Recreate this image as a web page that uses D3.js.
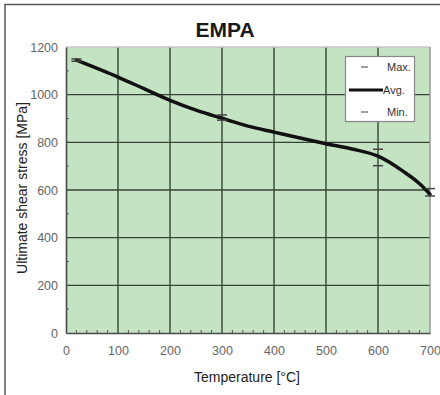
<!DOCTYPE html>
<html><head><meta charset="utf-8">
<script src="https://cdn.jsdelivr.net/npm/d3@7"></script>
<style>body{margin:0;background:#fff;}svg{display:block;}</style>
</head><body>
<script>
const title = "EMPA";
const xLabel = "Temperature [°C]";
const yLabel = "Ultimate shear stress [MPa]";
const xTicks = [0, 100, 200, 300, 400, 500, 600, 700];
const yTicks = [0, 200, 400, 600, 800, 1000, 1200];
const temps = [20, 100, 150, 200, 250, 300, 350, 400, 450, 500, 550, 600, 650, 680, 700];
const avg   = [1145, 1074, 1025, 976, 935, 901, 868, 843, 818, 794, 772, 742, 676, 626, 582];
const barTemps = [20, 300, 600, 700];
const maxVals  = [1150, 915, 771, 606];
const minVals  = [1140, 893, 702, 575];
const legendLabels = ["Max.", "Avg.", "Min."];

const W = 440, H = 395;
const svg = d3.select("body").append("svg").attr("width", W).attr("height", H)
  .style("font-family", "Arial, 'Liberation Sans', sans-serif");

// outer frame
svg.append("path").attr("d", `M5,${H} L5,4.5 L${W},4.5`).attr("fill", "none")
  .attr("stroke", "#555").attr("stroke-width", 1.5);

const x = d3.scaleLinear().domain([0, 700]).range([66, 430]);
const y = d3.scaleLinear().domain([0, 1200]).range([333, 47]);

svg.append("rect").attr("x", x(0)).attr("y", y(1200)).attr("width", x(700) - x(0))
  .attr("height", y(0) - y(1200)).attr("fill", "#c4e3c3");

// grid
svg.append("g").selectAll("line").data(xTicks.slice(1, -1)).join("line")
  .attr("x1", d => x(d)).attr("x2", d => x(d)).attr("y1", y(1200)).attr("y2", y(0))
  .attr("stroke", "#364236").attr("stroke-width", 1.4);
svg.append("g").selectAll("line").data(yTicks.slice(1, -1)).join("line")
  .attr("x1", x(0)).attr("x2", x(700)).attr("y1", d => y(d)).attr("y2", d => y(d))
  .attr("stroke", "#364236").attr("stroke-width", 1.4);

// borders
svg.append("line").attr("x1", x(0)).attr("x2", x(700)).attr("y1", y(1200)).attr("y2", y(1200))
  .attr("stroke", "#c8c8c8").attr("stroke-width", 1.5);
svg.append("line").attr("x1", x(700)).attr("x2", x(700)).attr("y1", y(1200)).attr("y2", y(0))
  .attr("stroke", "#9a9a9a").attr("stroke-width", 1.5);

// axes
const xAxis = d3.axisBottom(x).tickValues(xTicks).tickFormat(d3.format("d")).tickSize(0).tickPadding(13);
const gx = svg.append("g").attr("transform", `translate(0,${y(0)})`).call(xAxis);
gx.select(".domain").attr("stroke", "#4a4a4a").attr("stroke-width", 1.6);
gx.selectAll("text").attr("fill", "#666").style("font-size", "12.5px");

const yAxis = d3.axisLeft(y).tickValues(yTicks).tickFormat(d3.format("d")).tickSize(0).tickPadding(8);
const gy = svg.append("g").attr("transform", `translate(${x(0)},0)`).call(yAxis);
gy.select(".domain").attr("stroke", "#4a4a4a").attr("stroke-width", 1.6);
gy.selectAll("text").attr("fill", "#666").style("font-size", "12.5px");

// minor ticks
svg.append("g").selectAll("line").data(d3.range(20, 700, 20).filter(d => d % 100 !== 0)).join("line")
  .attr("x1", d => x(d)).attr("x2", d => x(d)).attr("y1", y(0)).attr("y2", y(0) - 3)
  .attr("stroke", "#555").attr("stroke-width", 1);
svg.append("g").selectAll("line").data([100, 300, 500, 700, 900, 1100]).join("line")
  .attr("x1", x(0)).attr("x2", x(0) + 3).attr("y1", d => y(d)).attr("y2", d => y(d))
  .attr("stroke", "#555").attr("stroke-width", 1);

// curve
const line = d3.line().x((d, i) => x(temps[i])).y(d => y(d)).curve(d3.curveMonotoneX);
svg.append("path").datum(avg).attr("d", line).attr("fill", "none")
  .attr("stroke", "#111").attr("stroke-width", 3.5).attr("stroke-linecap", "round");

// error caps
barTemps.forEach((t, i) => {
  [maxVals[i], minVals[i]].forEach(v => {
    svg.append("line").attr("x1", x(t) - 5).attr("x2", x(t) + 5).attr("y1", y(v)).attr("y2", y(v))
      .attr("stroke", "#444").attr("stroke-width", 1.5);
  });
});

// title
svg.append("text").attr("x", 225).attr("y", 37).attr("text-anchor", "middle")
  .style("font-size", "21px").style("font-weight", "bold").attr("fill", "#1a1a1a").text(title);

// axis labels
svg.append("text").attr("x", 247).attr("y", 382).attr("text-anchor", "middle")
  .style("font-size", "14px").attr("fill", "#222").text(xLabel);
svg.append("text").attr("transform", "translate(27,188) rotate(-90)").attr("text-anchor", "middle")
  .style("font-size", "14px").attr("fill", "#222").text(yLabel);

// legend
const lg = svg.append("g");
lg.append("rect").attr("x", 345.5).attr("y", 56.5).attr("width", 69).attr("height", 65)
  .attr("fill", "#fff").attr("stroke", "#888").attr("stroke-width", 1.2);
const ly = [67, 90, 112];
lg.append("line").attr("x1", 361).attr("x2", 368).attr("y1", ly[0]).attr("y2", ly[0]).attr("stroke", "#666").attr("stroke-width", 1.3);
lg.append("line").attr("x1", 349).attr("x2", 383).attr("y1", ly[1]).attr("y2", ly[1]).attr("stroke", "#111").attr("stroke-width", 3);
lg.append("line").attr("x1", 361).attr("x2", 368).attr("y1", ly[2]).attr("y2", ly[2]).attr("stroke", "#666").attr("stroke-width", 1.3);
lg.selectAll("text.l").data(legendLabels).join("text").attr("class", "l")
  .attr("x", (d, i) => i === 1 ? 383 : 387).attr("y", (d, i) => ly[i] + 4)
  .style("font-size", "11px").attr("fill", "#333").text(d => d);
</script>
</body></html>
